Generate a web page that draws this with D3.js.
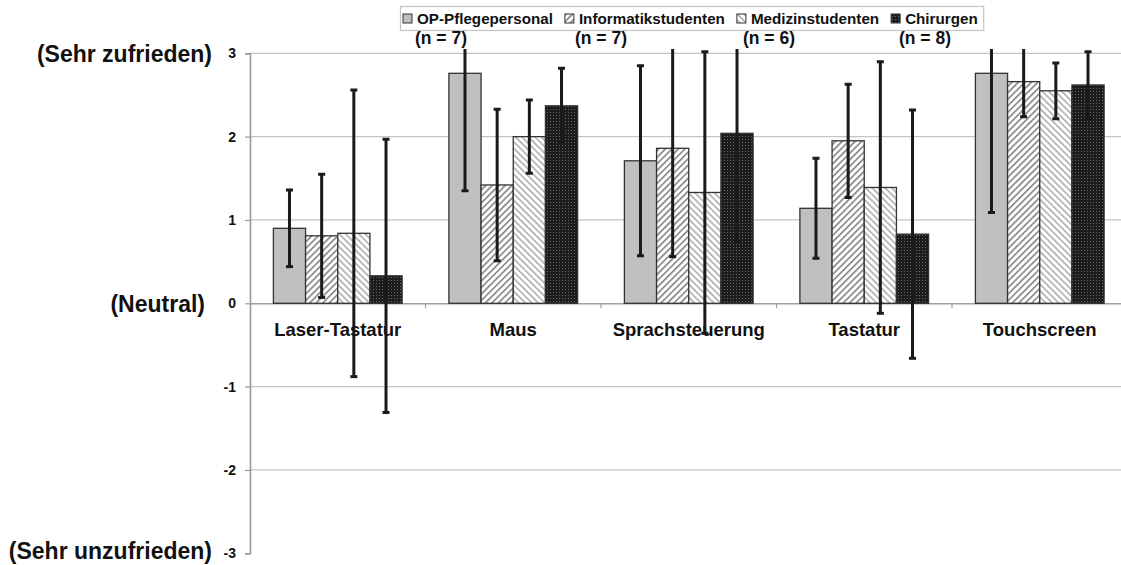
<!DOCTYPE html>
<html>
<head>
<meta charset="utf-8">
<script src="https://cdn.jsdelivr.net/npm/d3@7"></script>
<style>
  body { margin: 0; background: #fff; }
  svg { display: block; font-family: "Liberation Sans", Arial, sans-serif; font-weight: bold; }
</style>
</head>
<body>
<div id="chart"></div>
<script>
// Daten
const categories = ["Laser-Tastatur", "Maus", "Sprachsteuerung", "Tastatur", "Touchscreen"];
const seriesNames = ["OP-Pflegepersonal", "Informatikstudenten", "Medizinstudenten", "Chirurgen"];
const groupSizes = ["(n = 7)", "(n = 7)", "(n = 6)", "(n = 8)"];

const opValues   = [0.90, 2.76, 1.71, 1.14, 2.76];
const opErr      = [0.46, 1.41, 1.14, 0.60, 1.67];
const infoValues = [0.81, 1.42, 1.86, 1.95, 2.66];
const infoErr    = [0.74, 0.91, 1.30, 0.68, 0.42];
const medValues  = [0.84, 2.00, 1.33, 1.39, 2.55];
const medErr     = [1.72, 0.44, 1.69, 1.51, 0.335];
const chirValues = [0.33, 2.37, 2.04, 0.83, 2.62];
const chirErr    = [1.64, 0.45, 1.30, 1.49, 0.40];

const yTicks = [-3, -2, -1, 0, 1, 2, 3];
const yTextLabels = [
    { v: 3, text: "(Sehr zufrieden)" },
    { v: 0, text: "(Neutral)" },
    { v: -3, text: "(Sehr unzufrieden)" }
];

const allValues = [opValues, infoValues, medValues, chirValues];
const allErr = [opErr, infoErr, medErr, chirErr];

const rows = [];
categories.forEach((c, i) => {
    seriesNames.forEach((s, j) => {
        rows.push({ cat: c, series: s, idx: j, value: allValues[j][i], err: allErr[j][i] });
    });
});

const W = 1121, H = 565;
const plot = { left: 250, right: 1127.5, top: 53.3, bottom: 553.3 };

const svg = d3.select("#chart").append("svg")
    .attr("width", W)
    .attr("height", H);

// Muster
const defs = svg.append("defs");
const pInfo = defs.append("pattern")
    .attr("id", "hatchInfo")
    .attr("patternUnits", "userSpaceOnUse")
    .attr("width", 4.6).attr("height", 4.6)
    .attr("patternTransform", "rotate(45)");
pInfo.append("rect").attr("width", 4.6).attr("height", 4.6).attr("fill", "#fff");
pInfo.append("line").attr("x1", 0.8).attr("y1", 0).attr("x2", 0.8).attr("y2", 4.6)
    .attr("stroke", "#7a7a7a").attr("stroke-width", 1.5);

const pMed = defs.append("pattern")
    .attr("id", "hatchMed")
    .attr("patternUnits", "userSpaceOnUse")
    .attr("width", 4.6).attr("height", 4.6)
    .attr("patternTransform", "rotate(-45)");
pMed.append("rect").attr("width", 4.6).attr("height", 4.6).attr("fill", "#fff");
pMed.append("line").attr("x1", 0.8).attr("y1", 0).attr("x2", 0.8).attr("y2", 4.6)
    .attr("stroke", "#a8a8a8").attr("stroke-width", 1.5);

const pChir = defs.append("pattern")
    .attr("id", "dotsChir")
    .attr("patternUnits", "userSpaceOnUse")
    .attr("width", 3).attr("height", 3);
pChir.append("rect").attr("width", 3).attr("height", 3).attr("fill", "#1c1c1c");
pChir.append("rect").attr("x", 1).attr("y", 1).attr("width", 1).attr("height", 1).attr("fill", "#6a6a6a");

const fills = ["#c0c0c0", "url(#hatchInfo)", "url(#hatchMed)", "url(#dotsChir)"];

defs.append("clipPath").attr("id", "plotClip")
    .append("rect")
    .attr("x", plot.left).attr("y", 49)
    .attr("width", plot.right - plot.left).attr("height", plot.bottom - 49 + 5);

// Skalen
const x = d3.scaleBand().domain(categories).range([plot.left, plot.right]);
const groupMargin = x.bandwidth() * 0.1333;
const xs = d3.scaleBand().domain(seriesNames).range([groupMargin, x.bandwidth() - groupMargin]);
const y = d3.scaleLinear().domain([-3, 3]).range([plot.bottom, plot.top]);

// Gitterlinien
svg.append("g")
    .selectAll("line")
    .data(yTicks.filter(t => t !== 0 && t !== -3))
    .join("line")
    .attr("x1", plot.left).attr("x2", plot.right)
    .attr("y1", d => y(d)).attr("y2", d => y(d))
    .attr("stroke", "#c4c4c4").attr("stroke-width", 1.2);

// y-Achse
const yAxis = svg.append("g")
    .attr("transform", `translate(${plot.left},0)`)
    .call(d3.axisLeft(y).tickValues(yTicks).tickSize(5).tickPadding(9).tickFormat(d => String(d)));
yAxis.select(".domain").attr("stroke", "#9a9a9a").attr("stroke-width", 1.6);
yAxis.selectAll(".tick line").attr("stroke", "#9a9a9a").attr("stroke-width", 1.2);
yAxis.selectAll(".tick text")
    .attr("font-family", "Liberation Sans, Arial, sans-serif")
    .attr("font-weight", "bold")
    .attr("font-size", 14)
    .attr("fill", "#111");

svg.append("g")
    .selectAll("text")
    .data(yTextLabels)
    .join("text")
    .attr("x", d => d.v === 0 ? 205 : 212)
    .attr("y", d => y(d.v) - (d.v === -3 ? 3 : 0))
    .attr("dy", "0.36em")
    .attr("text-anchor", "end")
    .attr("font-size", 23)
    .attr("fill", "#111")
    .text(d => d.text);

// x-Achse bei 0
const xAxis = svg.append("g")
    .attr("transform", `translate(0,${y(0)})`)
    .call(d3.axisBottom(x).tickSize(0).tickPadding(20));
xAxis.select(".domain").attr("stroke", "#a0a0a0").attr("stroke-width", 1.4);
xAxis.selectAll(".tick text")
    .attr("font-family", "Liberation Sans, Arial, sans-serif")
    .attr("font-weight", "bold")
    .attr("font-size", 18.5)
    .attr("fill", "#111");

svg.append("g")
    .selectAll("line")
    .data(categories.slice(1))
    .join("line")
    .attr("x1", d => x(d)).attr("x2", d => x(d))
    .attr("y1", y(0)).attr("y2", y(0) + 5)
    .attr("stroke", "#a0a0a0").attr("stroke-width", 1.2);

// Balken
svg.append("g")
    .selectAll("rect")
    .data(rows)
    .join("rect")
    .attr("x", d => x(d.cat) + xs(d.series))
    .attr("width", xs.bandwidth())
    .attr("y", d => y(Math.max(0, d.value)))
    .attr("height", d => Math.abs(y(d.value) - y(0)))
    .attr("fill", d => fills[d.idx])
    .attr("stroke", "#333")
    .attr("stroke-width", 1.3);

// Fehlerbalken
const eg = svg.append("g").attr("clip-path", "url(#plotClip)");
const cx = d => x(d.cat) + xs(d.series) + xs.bandwidth() / 2;
eg.selectAll("line.err")
    .data(rows)
    .join("line")
    .attr("class", "err")
    .attr("x1", cx).attr("x2", cx)
    .attr("y1", d => y(d.value + d.err))
    .attr("y2", d => y(d.value - d.err))
    .attr("stroke", "#1a1a1a").attr("stroke-width", 3);
["+", "-"].forEach(sign => {
    eg.selectAll("line.cap" + (sign === "+" ? "Top" : "Bot"))
        .data(rows)
        .join("line")
        .attr("class", "cap" + (sign === "+" ? "Top" : "Bot"))
        .attr("x1", d => cx(d) - 3.5).attr("x2", d => cx(d) + 3.5)
        .attr("y1", d => y(sign === "+" ? d.value + d.err : d.value - d.err))
        .attr("y2", d => y(sign === "+" ? d.value + d.err : d.value - d.err))
        .attr("stroke", "#1a1a1a").attr("stroke-width", 3);
});

// Legende
const lg = svg.append("g");
const legendBox = lg.append("rect")
    .attr("x", 400.5).attr("y", 6.5)
    .attr("height", 24)
    .attr("fill", "#fff")
    .attr("stroke", "#c4c4c4").attr("stroke-width", 1.2);
let lx = 403;
seriesNames.forEach((s, j) => {
    lg.append("rect")
        .attr("x", lx).attr("y", 14)
        .attr("width", 9).attr("height", 9)
        .attr("fill", fills[j])
        .attr("stroke", "#333").attr("stroke-width", 1);
    const t = lg.append("text")
        .attr("x", lx + 14).attr("y", 24)
        .attr("font-size", 15.2)
        .attr("fill", "#111")
        .text(s);
    lx += 14 + t.node().getComputedTextLength() + 12;
});
legendBox.attr("width", lx - 12 + 6 - 400.5);

// Gruppengroessen
const nCenters = [441, 601, 769, 925];
svg.append("g")
    .selectAll("text")
    .data(groupSizes)
    .join("text")
    .attr("x", (d, i) => nCenters[i])
    .attr("y", 44)
    .attr("text-anchor", "middle")
    .attr("font-size", 17.5)
    .attr("fill", "#111")
    .text(d => d);
</script>
</body>
</html>
